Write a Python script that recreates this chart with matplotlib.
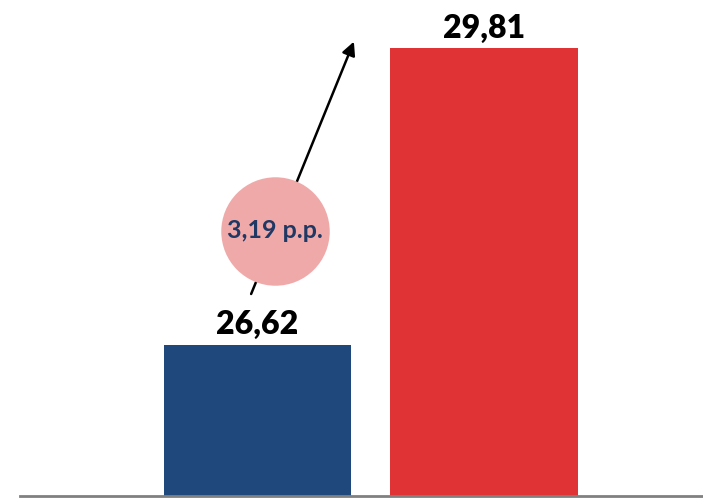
import matplotlib.pyplot as plt

plt.rcParams['font.family'] = ['Lato', 'DejaVu Sans']

values = [26.62, 29.81]
labels = ['26,62', '29,81']
colors = ['#1F497D', '#E03336']
diff_label = '3,19 p.p.'

fig = plt.figure(figsize=(7.03, 4.99), dpi=100)
ax = fig.add_axes([20 / 703, 3.5 / 499, 683 / 703, 495.5 / 499])

x = list(range(len(values)))
ax.bar(x, values, width=0.826, color=colors, bottom=0)
ax.set_xlim(-1.049, 1.967)
ax.set_ylim(25, 30.33)

for xi, v, lab in zip(x, values, labels):
    ax.text(xi, v + 0.06, lab, ha='center', va='bottom',
            fontsize=23, fontweight='heavy', color='black')

# arrow showing the change
ax.annotate('', xy=(0.43, values[1] + 0.1), xytext=(-0.033, values[0] + 0.52),
            arrowprops=dict(arrowstyle='-|>', color='black', lw=1.8,
                            mutation_scale=20), zorder=3)
ax.scatter([0.077], [27.85], s=6100, color='#F0A9A9', zorder=4, linewidths=0)
ax.text(0.077, 27.85, diff_label, ha='center', va='center', fontsize=18,
        fontweight='bold', color='#1F3864', zorder=5)

for s in ['top', 'right', 'left']:
    ax.spines[s].set_visible(False)
ax.spines['bottom'].set_color('#808080')
ax.spines['bottom'].set_linewidth(2)
ax.set_xticks([])
ax.set_yticks([])

fig.savefig('out.png', dpi=100)
